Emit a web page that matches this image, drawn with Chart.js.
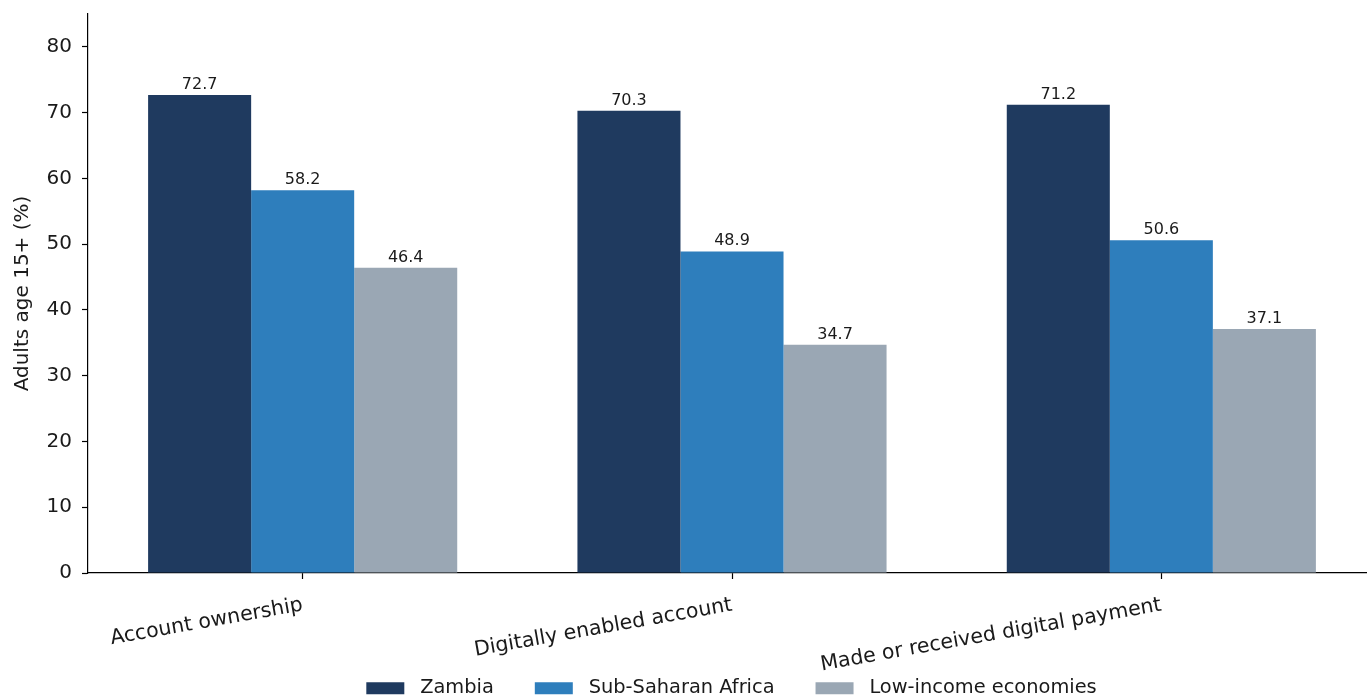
<!DOCTYPE html>
<html>
<head>
<meta charset="utf-8">
<title>Account ownership and digital payments</title>
<script src="https://cdn.jsdelivr.net/npm/chart.js@4.4.1/dist/chart.umd.min.js"></script>
<style>
    html, body { margin: 0; padding: 0; background: #fff; }
    #wrap { width: 1367px; height: 700px; overflow: hidden; position: relative; }
    #chart { display: block; }
</style>
</head>
<body>
<div id="wrap">
    <canvas id="chart" width="1463" height="708"></canvas>
</div>
<script>
// ========================== Datos
const categories = ["Account ownership", "Digitally enabled account", "Made or received digital payment"];
const zambia = [72.7, 70.3, 71.2];
const subSaharan = [58.2, 48.9, 50.6];
const lowIncome = [46.4, 34.7, 37.1];
const seriesNames = ["Zambia", "Sub-Saharan Africa", "Low-income economies"];
const yTicks = [0, 10, 20, 30, 40, 50, 60, 70, 80];

const FONT = "'DejaVu Sans', sans-serif";
const INK = "#1a1a1a";

// ========================== Etiquetas de valor sobre cada barra
const valueLabels = {
    id: "valueLabels",
    afterDatasetsDraw(chart) {
        const ctx = chart.ctx;
        ctx.save();
        ctx.font = "16px " + FONT;
        ctx.fillStyle = INK;
        ctx.textAlign = "center";
        ctx.textBaseline = "alphabetic";
        chart.data.datasets.forEach((ds, i) => {
            chart.getDatasetMeta(i).data.forEach((bar, j) => {
                ctx.fillText(ds.data[j].toFixed(1), bar.x, bar.y - 6);
            });
        });
        ctx.restore();
    }
};

// ejes sin relleno extra de Chart.js
function noPad(scale) {
    scale.paddingTop = 0;
    scale.paddingBottom = 0;
    scale.paddingLeft = 0;
    scale.paddingRight = 0;
}

new Chart(document.getElementById("chart"), {
    type: "bar",
    data: {
        labels: categories,
        datasets: [
            { label: seriesNames[0], data: zambia, backgroundColor: "#1f3a5f" },
            { label: seriesNames[1], data: subSaharan, backgroundColor: "#2e7ebc" },
            { label: seriesNames[2], data: lowIncome, backgroundColor: "#9aa7b4" }
        ]
    },
    options: {
        responsive: false,
        animation: false,
        devicePixelRatio: 1,
        datasets: {
            bar: { categoryPercentage: 0.72, barPercentage: 1.0, borderWidth: 0 }
        },
        layout: { padding: { top: 14, left: 0, right: 0, bottom: 0 } },
        plugins: {
            tooltip: { enabled: false },
            legend: {
                position: "bottom",
                labels: {
                    boxWidth: 38,
                    boxHeight: 12,
                    padding: 41,
                    color: INK,
                    font: { family: FONT, size: 19.4 },
                    // un poco más de aire entre el cuadro y el texto
                    generateLabels(chart) {
                        return Chart.defaults.plugins.legend.labels.generateLabels(chart)
                            .map(item => Object.assign(item, { text: " " + item.text }));
                    }
                }
            }
        },
        scales: {
            x: {
                grid: {
                    display: true,
                    drawOnChartArea: false,
                    offset: false,
                    tickLength: 6,
                    tickColor: "#000",
                    tickWidth: 1.2
                },
                border: { display: true, color: "#000", width: 1.2 },
                ticks: {
                    minRotation: 10,
                    maxRotation: 10,
                    padding: 14,
                    color: INK,
                    font: { family: FONT, size: 20.5 }
                },
                afterFit(scale) {
                    scale.height = 64.6;
                    noPad(scale);
                    // las etiquetas inclinadas pueden pasar por encima de la leyenda
                    scale._computeLabelArea = () => null;
                }
            },
            y: {
                min: 0,
                max: 85,
                grid: {
                    display: true,
                    drawOnChartArea: false,
                    tickLength: 6,
                    tickColor: "#000",
                    tickWidth: 1.2
                },
                border: { display: true, color: "#000", width: 1.2 },
                afterBuildTicks(scale) {
                    scale.ticks = yTicks.map(v => ({ value: v }));
                },
                ticks: {
                    padding: 10,
                    color: INK,
                    font: { family: FONT, size: 20 }
                },
                title: {
                    display: true,
                    text: "Adults age 15+ (%)",
                    color: INK,
                    padding: { top: 11, bottom: 0 },
                    font: { family: FONT, size: 20 }
                },
                afterFit(scale) {
                    scale.width = 88;
                    noPad(scale);
                }
            },
            // margen derecho de la figura
            margenDer: {
                type: "linear",
                position: "right",
                display: true,
                grid: { display: false },
                border: { display: false },
                ticks: { display: false },
                afterFit(scale) {
                    scale.width = 87;
                    noPad(scale);
                }
            }
        }
    },
    plugins: [valueLabels]
});
</script>
</body>
</html>
